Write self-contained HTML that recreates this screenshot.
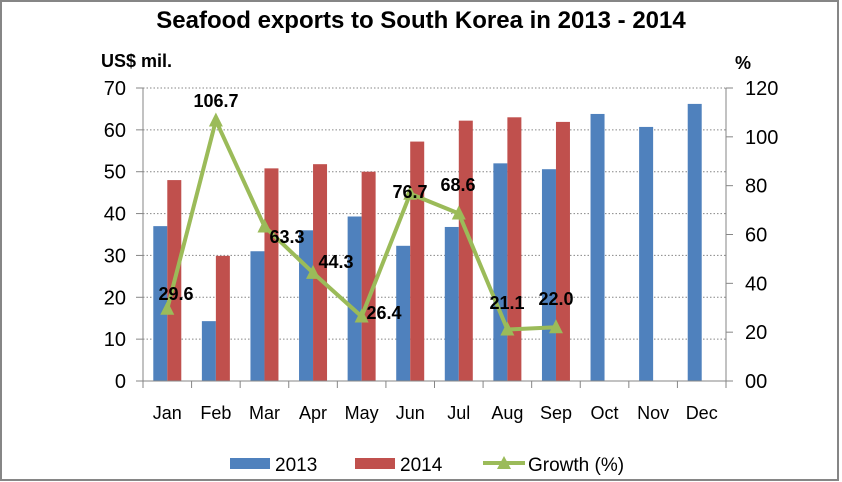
<!DOCTYPE html>
<html><head><meta charset="utf-8"><style>
html,body{margin:0;padding:0;background:#fff}
svg{display:block}
text{font-family:"Liberation Sans",Arial,sans-serif}
</style></head><body>
<svg id="s" width="842" height="482" xmlns="http://www.w3.org/2000/svg">
<rect x="1" y="1" width="837" height="479" fill="#fff" stroke="#868686" stroke-width="2"/>
<text x="421" y="28" text-anchor="middle" font-size="24" font-weight="bold">Seafood exports to South Korea in 2013 - 2014</text>
<text x="101" y="67" font-size="18" font-weight="bold">US$ mil.</text>
<text x="735" y="69" font-size="18" font-weight="bold">%</text>
<g id="g"></g>
</svg>
<script>
var g=document.getElementById('g'),h='';
var L=143,R=726,T=88,B=381,cw=(R-L)/12,kl=(B-T)/70,kr=(B-T)/120;
for(var v=10;v<=70;v+=10){var y=B-v*kl;h+='<line x1="'+L+'" x2="'+R+'" y1="'+y+'" y2="'+y+'" stroke="#868686" stroke-dasharray="1.5,2" stroke-width="1"/>';}
var a=[37,14.3,31,36,39.3,32.3,36.8,52,50.6,63.8,60.7,66.2],b=[48,29.9,50.8,51.8,50,57.2,62.2,63,61.9];
var gr=[29.6,106.7,63.3,44.3,26.4,76.7,68.6,21.1,22.0];
var m=['Jan','Feb','Mar','Apr','May','Jun','Jul','Aug','Sep','Oct','Nov','Dec'];
for(var i=0;i<12;i++){var c=L+cw*(i+.5);
h+='<rect x="'+(c-14)+'" y="'+(B-a[i]*kl)+'" width="14" height="'+(a[i]*kl)+'" fill="#4F81BD"/>';
if(i<9)h+='<rect x="'+c+'" y="'+(B-b[i]*kl)+'" width="14" height="'+(b[i]*kl)+'" fill="#C0504D"/>';
h+='<text x="'+c+'" y="419" text-anchor="middle" font-size="18">'+m[i]+'</text>';}
h+='<line x1="'+L+'" x2="'+L+'" y1="'+T+'" y2="'+B+'" stroke="#868686"/>';
h+='<line x1="'+R+'" x2="'+R+'" y1="'+T+'" y2="'+B+'" stroke="#868686"/>';
h+='<line x1="'+(L-7)+'" x2="'+(R+7)+'" y1="'+B+'" y2="'+B+'" stroke="#868686"/>';
for(var i=0;i<=12;i++){var x=L+cw*i;h+='<line x1="'+x+'" x2="'+x+'" y1="'+B+'" y2="'+(B+7)+'" stroke="#868686"/>';}
for(var v=0;v<=70;v+=10){var y=B-v*kl;h+='<line x1="'+(L-7)+'" x2="'+L+'" y1="'+y+'" y2="'+y+'" stroke="#868686"/><text x="'+(L-17)+'" y="'+(y+7)+'" text-anchor="end" font-size="20">'+v+'</text>';}
for(var v=0;v<=120;v+=20){var y=B-v*kr;h+='<line x1="'+R+'" x2="'+(R+7)+'" y1="'+y+'" y2="'+y+'" stroke="#868686"/><text x="'+(R+19)+'" y="'+(y+7)+'" font-size="20">'+(v==0?'00':v)+'</text>';}
var pts=gr.map(function(v,i){return (L+cw*(i+.5))+','+(B-v*kr)}).join(' ');
h+='<polyline points="'+pts+'" fill="none" stroke="#9BBB59" stroke-width="4" stroke-linejoin="round"/>';
gr.forEach(function(v,i){var x=L+cw*(i+.5),y=B-v*kr;h+='<polygon points="'+(x-7)+','+(y+6)+' '+(x+7)+','+(y+6)+' '+x+','+(y-8)+'" fill="#9BBB59"/>';});
var lp=[[176,293],[216,100],[287,236],[336,261],[384,312],[410,191],[458,184],[507,302],[556,298]];
lp.forEach(function(p,i){h+='<text x="'+p[0]+'" y="'+(p[1]+7)+'" text-anchor="middle" font-size="18" font-weight="bold">'+gr[i].toFixed(1)+'</text>';});
h+='<rect x="230" y="458" width="40" height="11" fill="#4F81BD"/><text x="275" y="471" font-size="19">2013</text>';
h+='<rect x="355" y="458" width="40" height="11" fill="#C0504D"/><text x="400" y="471" font-size="19">2014</text>';
h+='<line x1="483" x2="525" y1="463" y2="463" stroke="#9BBB59" stroke-width="4"/><polygon points="497,469 511,469 504,456" fill="#9BBB59"/><text x="528" y="471" font-size="19">Growth (%)</text>';
g.innerHTML=h;
</script>
</body></html>
